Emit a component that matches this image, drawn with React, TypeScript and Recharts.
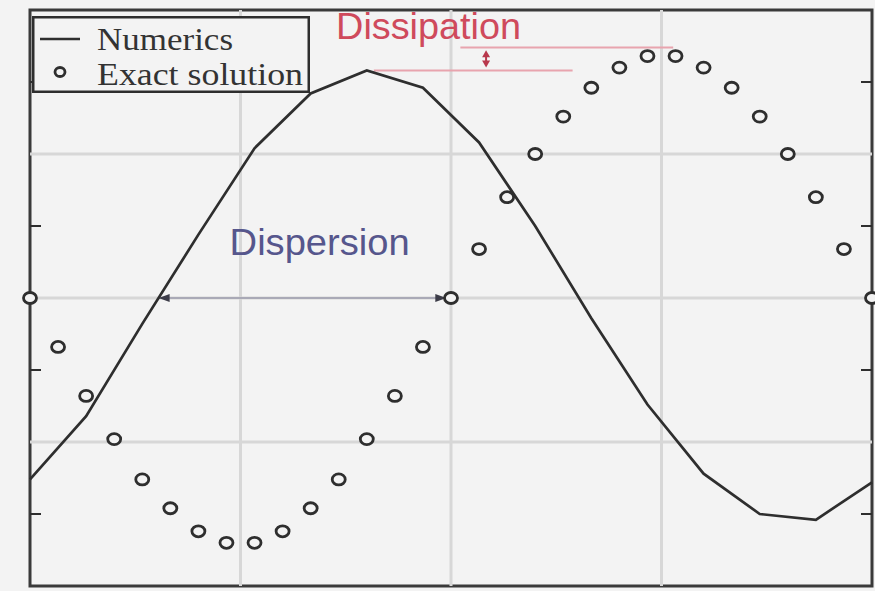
import {
  ComposedChart,
  Line,
  Scatter,
  XAxis,
  YAxis,
  ReferenceLine,
  ReferenceArea,
  Legend,
} from 'recharts';

// phase in degrees, one full wave period
const phase = [
  0, 12, 24, 36, 48, 60, 72, 84, 96, 108, 120, 132, 144, 156, 168, 180,
  192, 204, 216, 228, 240, 252, 264, 276, 288, 300, 312, 324, 336, 348, 360,
];
const exactSolution = [
  0, -0.17, -0.34, -0.49, -0.63, -0.73, -0.81, -0.85, -0.85, -0.81, -0.73, -0.63, -0.49, -0.34, -0.17, 0,
  0.17, 0.35, 0.5, 0.63, 0.73, 0.8, 0.84, 0.84, 0.8, 0.73, 0.63, 0.5, 0.35, 0.17, 0,
];

// numerical scheme runs on a grid twice as coarse
const numericPhase = [0, 24, 48, 72, 96, 120, 144, 168, 192, 216, 240, 264, 288, 312, 336, 360];
const numerics = [-0.63, -0.41, -0.09, 0.22, 0.52, 0.71, 0.79, 0.73, 0.54, 0.25, -0.07, -0.37, -0.61, -0.75, -0.77, -0.64];

const xGridTicks = [90, 180, 270];
const yGridTicks = [-0.5, 0, 0.5];
const yMinorTicks = [-0.75, -0.25, 0.25, 0.75];

const exactRows = phase.map((p, i) => ({ phase: p, value: exactSolution[i] }));
const numericRows = numericPhase.map((p, i) => ({ phase: p, value: numerics[i] }));

const INK = '#2e2e2e';
const BG = '#f3f3f3';
const GRID = '#d7d7d7';

const ExactMarker = (props: any) => (
  <ellipse cx={props.cx} cy={props.cy} rx={6.5} ry={5.5} fill={BG} stroke={INK} strokeWidth={2.8} />
);

// short inward tick marks on both vertical frame edges
const MinorTick = (props: any) => {
  const { x1, x2, y1 } = props;
  return (
    <g stroke={INK} strokeWidth={2}>
      <line x1={x1} y1={y1} x2={x1 + 11} y2={y1} />
      <line x1={x2 - 11} y1={y1} x2={x2} y2={y1} />
    </g>
  );
};

const DispersionArrow = (props: any) => {
  const { x1, y1, x2 } = props;
  const c = '#3c3c48';
  return (
    <g>
      <line x1={x1} y1={y1} x2={x2} y2={y1} stroke="#a9a9b6" strokeWidth={2} />
      <polygon points={`${x1},${y1} ${x1 + 11},${y1 - 4} ${x1 + 11},${y1 + 4}`} fill={c} />
      <polygon points={`${x2},${y1} ${x2 - 11},${y1 - 4} ${x2 - 11},${y1 + 4}`} fill={c} />
      <text
        x={x1 + 71}
        y={y1 - 43}
        fill="#56568c"
        fontFamily="Liberation Sans, Arial, sans-serif"
        fontSize={36}
        textLength={180}
        lengthAdjust="spacingAndGlyphs"
      >
        Dispersion
      </text>
    </g>
  );
};

const DissipationArrow = (props: any) => {
  const { x1, y1, y2 } = props;
  const c = '#b8384c';
  return (
    <g>
      <line x1={x1} y1={y1 + 4} x2={x1} y2={y2 - 4} stroke={c} strokeWidth={2} />
      <polygon points={`${x1},${y1} ${x1 - 4},${y1 + 7} ${x1 + 4},${y1 + 7}`} fill={c} />
      <polygon points={`${x1},${y2} ${x1 - 4},${y2 - 7} ${x1 + 4},${y2 - 7}`} fill={c} />
      <text
        x={x1 - 150}
        y={y1 - 11}
        fill="#cf4a5c"
        fontFamily="Liberation Sans, Arial, sans-serif"
        fontSize={36}
        textLength={185}
        lengthAdjust="spacingAndGlyphs"
      >
        Dissipation
      </text>
    </g>
  );
};

const renderLegend = (props: any) => {
  // solid line entry first, markers second
  const payload = [...(props.payload || [])].sort(
    (a: any, b: any) => (a.type === 'line' ? 0 : 1) - (b.type === 'line' ? 0 : 1)
  );
  return (
    <svg width={278} height={77} style={{ display: 'block' }}>
      <rect x={1.25} y={1.25} width={275.5} height={74.5} fill={BG} stroke={INK} strokeWidth={2.5} />
      {payload.map((entry: any, i: number) => {
        const cy = i === 0 ? 23 : 56;
        const baseline = i === 0 ? 34 : 69;
        return (
          <g key={entry.value}>
            {entry.type === 'line' ? (
              <line x1={8} y1={cy} x2={48} y2={cy} stroke={INK} strokeWidth={2.5} />
            ) : (
              <ellipse cx={28} cy={cy} rx={5} ry={4.5} fill={BG} stroke={INK} strokeWidth={2.8} />
            )}
            <text
              x={65}
              y={baseline}
              fill="#333"
              fontFamily="Liberation Serif, Times New Roman, serif"
              fontSize={32}
              textLength={entry.value === 'Numerics' ? 136 : 206}
              lengthAdjust="spacingAndGlyphs"
            >
              {entry.value}
            </text>
          </g>
        );
      })}
    </svg>
  );
};

const App = () => {
  return (
    <div style={{ position: 'absolute', left: 0, top: 0, width: 875, height: 591, background: BG }}>
      <ComposedChart width={875} height={591} margin={{ top: 10, right: 3, bottom: 5, left: 30 }}>
        <XAxis
          type="number"
          dataKey="phase"
          domain={[0, 360]}
          height={0}
          tick={false}
          tickLine={false}
          axisLine={false}
        />
        <YAxis
          type="number"
          domain={[-1, 1]}
          width={0}
          tick={false}
          tickLine={false}
          axisLine={false}
        />
        {xGridTicks.map((t) => (
          <ReferenceLine key={`gx${t}`} x={t} stroke={GRID} strokeWidth={3} />
        ))}
        {yGridTicks.map((t) => (
          <ReferenceLine key={`gy${t}`} y={t} stroke={GRID} strokeWidth={3} />
        ))}
        {yMinorTicks.map((t) => (
          <ReferenceLine key={`mt${t}`} y={t} shape={MinorTick} />
        ))}
        <ReferenceLine
          segment={[{ x: 55, y: 0 }, { x: 178, y: 0 }]}
          shape={DispersionArrow}
        />
        <ReferenceLine
          segment={[{ x: 184, y: 0.87 }, { x: 275, y: 0.87 }]}
          stroke="#e8a4ae"
          strokeWidth={2}
        />
        <ReferenceLine
          segment={[{ x: 147, y: 0.79 }, { x: 232, y: 0.79 }]}
          stroke="#e8a4ae"
          strokeWidth={2}
        />
        <ReferenceLine
          segment={[{ x: 195, y: 0.86 }, { x: 195, y: 0.8 }]}
          shape={DissipationArrow}
        />
        <Line
          name="Numerics"
          data={numericRows}
          dataKey="value"
          type="linear"
          stroke={INK}
          strokeWidth={2.7}
          dot={false}
          legendType="line"
          isAnimationActive={false}
        />
        <Scatter
          name="Exact solution"
          data={exactRows}
          dataKey="value"
          shape={ExactMarker}
          legendType="circle"
          isAnimationActive={false}
        />
        <ReferenceArea x1={0} x2={360} y1={-1} y2={1} fill="none" stroke="#3a3a3a" strokeWidth={3} />
        <Legend
          content={renderLegend}
          layout="vertical"
          align="center"
          verticalAlign="middle"
          wrapperStyle={{ top: 16, left: 32, width: 278, height: 77 }}
        />
      </ComposedChart>
    </div>
  );
};

export default App;
